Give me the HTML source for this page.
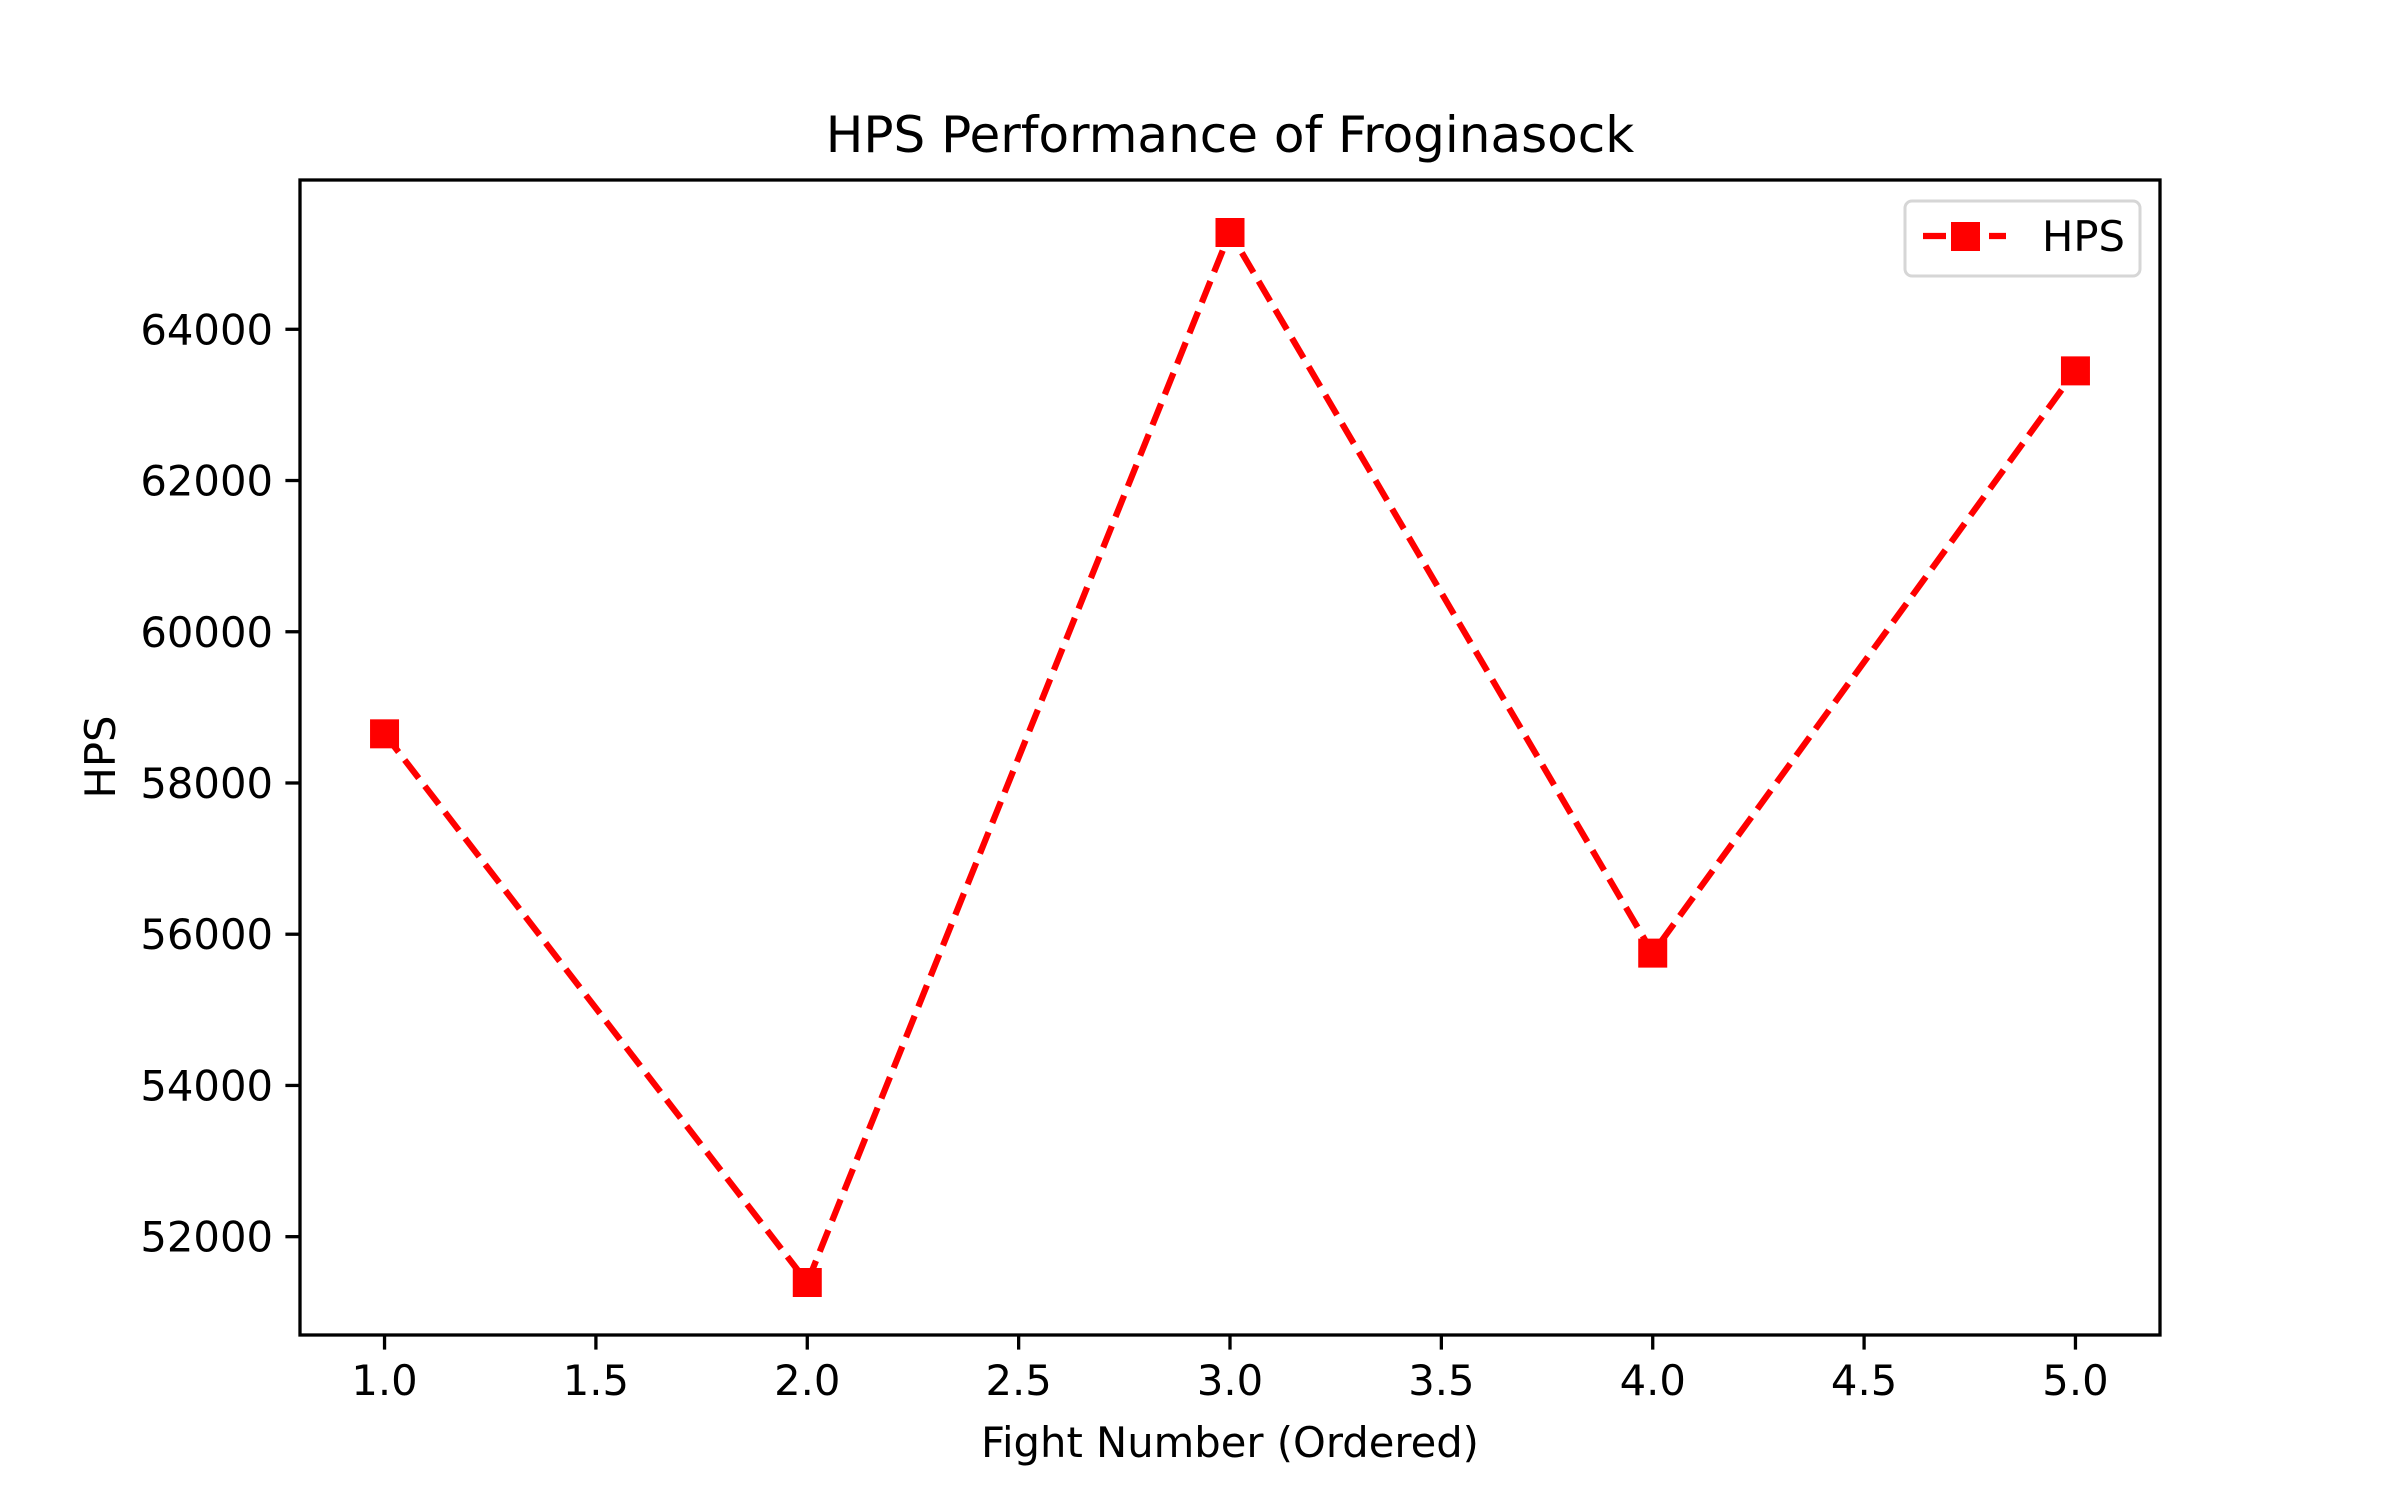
<!DOCTYPE html>
<html><head><meta charset="utf-8"><style>
html,body{margin:0;padding:0;background:#fff;}
svg text{font-family:"DejaVu Sans","Liberation Sans",sans-serif;fill:#000;}
</style></head><body>
<svg id="chart" width="2400" height="1500" viewBox="0 0 2400 1500" xmlns="http://www.w3.org/2000/svg">
<rect width="2400" height="1500" fill="#fff"/>
<text x="1230" y="152" font-size="50" text-anchor="middle">HPS Performance of Froginasock</text>
<text x="1230" y="1457" font-size="41.7" text-anchor="middle">Fight Number (Ordered)</text>
<text transform="translate(115,757) rotate(-90)" font-size="41.7" text-anchor="middle">HPS</text>
<g id="ticks"></g>
<g id="series"></g>
<rect x="300" y="180" width="1860" height="1155" fill="none" stroke="#000" stroke-width="3.3"/>
<g>
<rect x="1905" y="201" width="235" height="75" rx="7" fill="#fff" fill-opacity="0.8" stroke="#d6d6d6" stroke-width="3"/>
<line x1="1923" y1="236" x2="2006" y2="236" stroke="red" stroke-width="6.25" stroke-dasharray="23,10"/>
<rect x="1951" y="222" width="29" height="29" fill="red"/>
<text x="2042" y="251" font-size="41.7">HPS</text>
</g>
</svg>
<script>
const fights = [1, 2, 3, 4, 5];
const hps = [58650, 51394, 65280, 55750, 63450];
const xTicks = [1.0, 1.5, 2.0, 2.5, 3.0, 3.5, 4.0, 4.5, 5.0];
const yTicks = [52000, 54000, 56000, 58000, 60000, 62000, 64000];
const NS = 'http://www.w3.org/2000/svg';
const L = 300, R = 2160, T = 180, B = 1335;
const xmin = 0.8, xmax = 5.2;
const dmin = Math.min(...hps), dmax = Math.max(...hps), pad = (dmax - dmin) * 0.05;
const ymin = dmin - pad, ymax = dmax + pad;
const xs = v => L + (v - xmin) / (xmax - xmin) * (R - L);
const ys = v => B - (v - ymin) / (ymax - ymin) * (B - T);
function mk(tag, attrs, parent) { const e = document.createElementNS(NS, tag); for (const k in attrs) e.setAttribute(k, attrs[k]); parent.appendChild(e); return e; }
const tg = document.getElementById('ticks');
xTicks.forEach(v => {
  const l = mk('line', {x1: xs(v), x2: xs(v), y1: B, y2: B + 14.6, stroke: '#000', 'stroke-width': 3.3}, tg);
  
  
  const t = mk('text', {x: xs(v), y: B + 60, 'font-size': 41.7, 'text-anchor': 'middle'}, tg);
  t.textContent = v.toFixed(1);
  
  
});
yTicks.forEach(v => {
  const l = mk('line', {x1: L - 14.6, x2: L, y1: ys(v), y2: ys(v), stroke: '#000', 'stroke-width': 3.3}, tg);
  
  
  const t = mk('text', {x: L - 27, y: ys(v) + 15, 'font-size': 41.7, 'text-anchor': 'end'}, tg);
  t.textContent = v;
  
  
});
const sg = document.getElementById('series');
const pts = fights.map((f, i) => xs(f) + ',' + ys(hps[i])).join(' ');
const pl = mk('polyline', {points: pts, fill: 'none', stroke: 'red', 'stroke-width': 6.25, 'stroke-dasharray': '23,10'}, sg);


fights.forEach((f, i) => {
  const m = mk('rect', {x: xs(f) - 14.5, y: ys(hps[i]) - 14.5, width: 29, height: 29, fill: 'red'}, sg);
  
  
});
</script>
</body></html>
